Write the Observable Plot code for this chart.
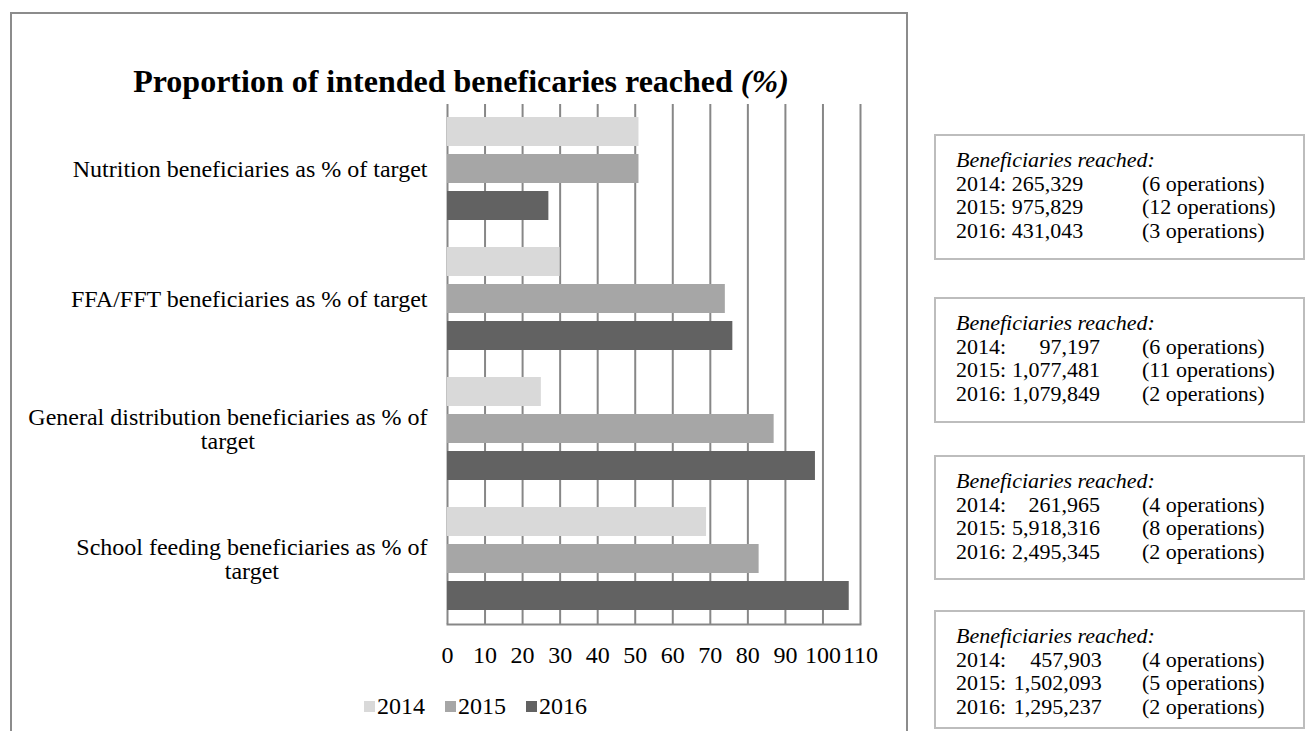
<!DOCTYPE html>
<html>
<head>
<meta charset="utf-8">
<script src="https://cdn.jsdelivr.net/npm/d3@7"></script>
<script src="https://cdn.jsdelivr.net/npm/@observablehq/plot@0.6"></script>
<style>
  html, body { margin: 0; padding: 0; background: #fff; }
  body { position: relative; width: 1309px; height: 731px; overflow: hidden;
         font-family: "Liberation Serif", "Times New Roman", serif; color: #000; }
  #frame { position: absolute; left: 10px; top: 12px; width: 898px; height: 740px;
           border: 2px solid #8c8c8c; box-sizing: border-box; }
  #title { position: absolute; left: 10px; width: 902px; top: 65px; text-align: center;
           font-size: 32px; font-weight: bold; line-height: 32px; white-space: nowrap; }
  #title i { font-weight: bold; }
  #chart { position: absolute; left: 0; top: 0; }
  #legend { position: absolute; left: 364px; top: 690px; }
  .lg-swatch { margin-right: 20px !important; }
  .lg-swatch > svg { margin-right: 2px !important; }
  .box { position: absolute; left: 934px; width: 371px; border: 2px solid #bdbdbd;
         box-sizing: border-box; padding: 12px 0 0 20px; font-size: 22px; line-height: 23.7px; }
  .box .hd { font-style: italic; }
  .row { white-space: nowrap; }
  .row span { display: inline-block; }
  .yr { width: 2.53em; }
  .num { width: 4.02em; }
  .ops { margin-left: 1.9em; }
</style>
</head>
<body>
<div id="frame"></div>
<div id="title">Proportion of intended beneficaries reached <i>(%)</i></div>
<div id="chart"></div>
<div id="legend"></div>
<div id="boxes"></div>
<script>
// ---- data ----
const categories = [
  "Nutrition beneficiaries as % of target",
  "FFA/FFT beneficiaries as % of target",
  "General distribution beneficiaries as % of target",
  "School feeding beneficiaries as % of target"
];
const categoryLabels = [
  "Nutrition beneficiaries as % of target",
  "FFA/FFT beneficiaries as % of target",
  "General distribution beneficiaries as % of\ntarget",
  "School feeding beneficiaries as % of\ntarget"
];
const years = ["2014", "2015", "2016"];
const values2014 = [51, 30, 25, 69];
const values2015 = [51, 74, 87, 83];
const values2016 = [27, 76, 98, 107];
const xTicks = [0, 10, 20, 30, 40, 50, 60, 70, 80, 90, 100, 110];
const yearColors = ["#d9d9d9", "#a6a6a6", "#626262"];

// beneficiaries reached (text boxes, same order as categories)
const boxHeading = "Beneficiaries reached:";
const reachedNutrition = ["265,329", "975,829", "431,043"];
const opsNutrition = [6, 12, 3];
const reachedFFA = ["97,197", "1,077,481", "1,079,849"];
const opsFFA = [6, 11, 2];
const reachedGeneral = ["261,965", "5,918,316", "2,495,345"];
const opsGeneral = [4, 8, 2];
const reachedSchool = ["457,903", "1,502,093", "1,295,237"];
const opsSchool = [4, 5, 2];

// ---- table for Plot ----
const seriesValues = [values2014, values2015, values2016];
const data = [];
categories.forEach((c, i) => {
  years.forEach((y, j) => data.push({category: c, year: y, value: seriesValues[j][i]}));
});

const chart = Plot.plot({
  width: 880,
  height: 680,
  marginLeft: 447,
  marginRight: 20,
  marginTop: 103,
  marginBottom: 56,
  style: {fontFamily: "Liberation Serif, Times New Roman, serif", background: "transparent", color: "#000"},
  x: {domain: [0, 110]},
  y: {domain: years, paddingInner: 0.21, paddingOuter: 0.316, axis: null},
  fy: {domain: categories, padding: 0, label: null},
  color: {domain: years, range: yearColors},
  marks: [
    Plot.gridX(xTicks, {stroke: "#878787", strokeOpacity: 1, strokeWidth: 2}),
    Plot.frame({anchor: "bottom", facetAnchor: "bottom", stroke: "#878787", strokeWidth: 2}),
    Plot.barX(data, {x: "value", y: "year", fy: "category", fill: "year"}),
    Plot.axisX(xTicks, {tickSize: 0, tickPadding: 21, fontSize: 24, label: null}),
    Plot.axisFy({anchor: "left", tickSize: 0, tickPadding: 20, fontSize: 24, label: null, lineHeight: 1.0,
                 tickFormat: d => categoryLabels[categories.indexOf(d)]})
  ]
});
document.getElementById("chart").append(chart);

// center wrapped lines of multi-line category labels (Excel style)
chart.querySelectorAll('g[aria-label="fy-axis tick label"] text').forEach(t => {
  const spans = t.querySelectorAll("tspan");
  if (spans.length > 1) {
    const w = Math.max(...[...spans].map(s => s.getComputedTextLength()));
    const base = +(t.getAttribute("x") || 0);
    t.setAttribute("text-anchor", "middle");
    spans.forEach(s => s.setAttribute("x", base - w / 2));
  }
});

// legend
const legend = Plot.legend({
  color: {domain: years, range: yearColors},
  legend: "swatches",
  swatchWidth: 11,
  swatchHeight: 11,
  className: "lg",
  style: {fontSize: "24px", fontFamily: "Liberation Serif, Times New Roman, serif", color: "#000"}
});
document.getElementById("legend").append(legend);

// text boxes
const boxes = [
  {reached: reachedNutrition, ops: opsNutrition, align: "left", top: 134, height: 126},
  {reached: reachedFFA, ops: opsFFA, align: "right", top: 297, height: 126},
  {reached: reachedGeneral, ops: opsGeneral, align: "right", top: 455, height: 125},
  {reached: reachedSchool, ops: opsSchool, align: "right", top: 610, height: 119, extra: true}
];
const holder = document.getElementById("boxes");
boxes.forEach(b => {
  const div = document.createElement("div");
  div.className = "box";
  div.style.top = b.top + "px";
  div.style.height = b.height + "px";
  let html = `<div class="hd">${boxHeading}</div>`;
  years.forEach((y, i) => {
    const numStyle = `text-align:${b.align};` + (b.extra ? "width:4.09em;" : "");
    const opsStyle = b.extra ? "margin-left:1.83em;" : "";
    html += `<div class="row"><span class="yr">${y}:</span><span class="num" style="${numStyle}">${b.reached[i]}</span><span class="ops" style="${opsStyle}">(${b.ops[i]} operations)</span></div>`;
  });
  div.innerHTML = html;
  holder.append(div);
});
</script>
</body>
</html>
